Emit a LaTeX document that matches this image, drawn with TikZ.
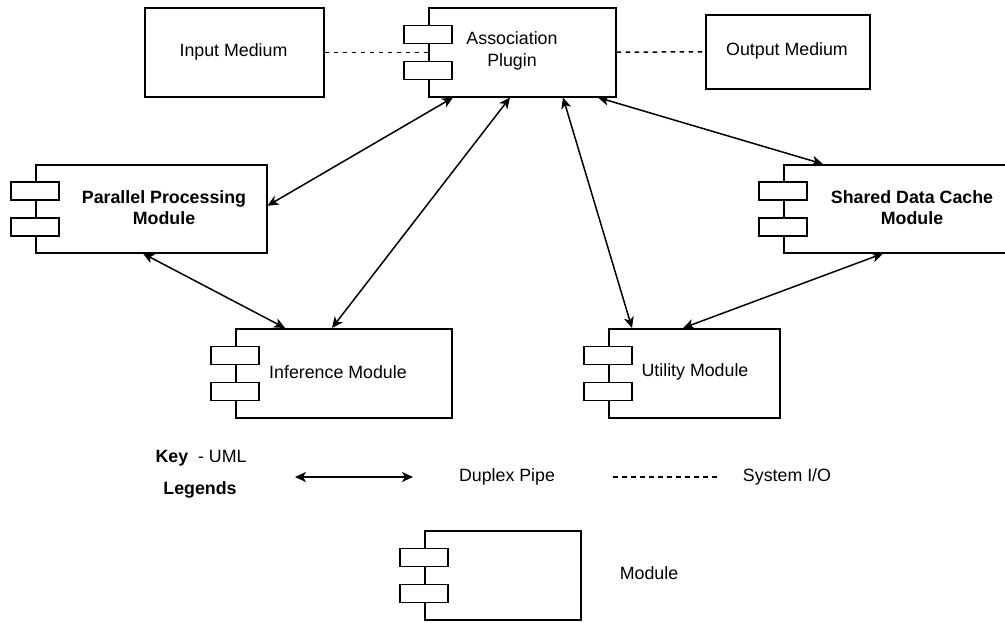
\documentclass[tikz,border=0pt]{standalone}
\usepackage{fontspec}
\setmainfont{Liberation Sans}
\usetikzlibrary{arrows.meta}

\tikzset{
  box/.style={draw=black, line width=1.5pt, fill=white, rectangle, inner sep=0pt, anchor=north west},
  lbl/.style={inner sep=0pt, align=center, font=\fontsize{17.8}{21.5}\selectfont},
  duplex/.style={line width=1.5pt, {Stealth[length=11pt,width=10pt,inset=3pt]}-{Stealth[length=11pt,width=10pt,inset=3pt]}},
  sysio/.style={line width=1.5pt, dash pattern=on 4.5pt off 4.5pt},
  ports/.pic={
    \draw[line width=1.5pt, fill=white] (-24,-27) rectangle (24,-9);
    \draw[line width=1.5pt, fill=white] (-24,9) rectangle (24,27);
  }
}

\begin{document}
\begin{tikzpicture}[x=1pt, y=-1pt]
\useasboundingbox (0,0) rectangle (1005,622);
\clip (0,0) rectangle (1005,622);

% plain boxes for the I/O media
\node[box, minimum width=179pt, minimum height=89pt] (input) at (144,7) {};
\node[box, minimum width=164pt, minimum height=74pt] (output) at (705,14) {};

% component boxes
\node[box, minimum width=187pt, minimum height=89pt] (assoc) at (428,7) {};
\node[box, minimum width=231pt, minimum height=88pt] (parallel) at (35,164) {};
\node[box, minimum width=231pt, minimum height=88pt] (shared) at (783,164) {};
\node[box, minimum width=216pt, minimum height=89pt] (inference) at (235,328) {};
\node[box, minimum width=171pt, minimum height=89pt] (utility) at (608,328) {};
\node[box, minimum width=156pt, minimum height=89pt] (keymod) at (424,530) {};

% system I/O links
\draw[sysio] (input.east) -- (assoc.west);
\draw[sysio] (assoc.east) -- (output.west);

% component ports
\pic at (assoc.west) {ports};
\pic at (parallel.west) {ports};
\pic at (shared.west) {ports};
\pic at (inference.west) {ports};
\pic at (utility.west) {ports};
\pic at (keymod.west) {ports};

% labels
\node[lbl] (inputT) at (233.5,51.5) {Input Medium};
\node[lbl] (outputT) at (787,51) {Output Medium};
\node[lbl] (assocT) at (512,51) {Association\\Plugin};
\node[lbl, font=\fontsize{17.8}{21.5}\selectfont\bfseries] (parallelT) at (164,207.5) {Parallel Processing\\Module};
\node[lbl, font=\fontsize{17.8}{21.5}\selectfont\bfseries] (sharedT) at (912,207.5) {Shared Data Cache\\Module};
\node[lbl] (inferenceT) at (338,372) {Inference Module};
\node[lbl] (utilityT) at (695,372) {Utility Module};

% duplex pipes
\draw[duplex] ([xshift=25pt]assoc.south west) -- ([yshift=3pt]parallel.east);
\draw[duplex] ([xshift=82pt]assoc.south west) -- ([xshift=97pt]inference.north west);
\draw[duplex] ([xshift=135pt]assoc.south west) -- ([xshift=24pt]utility.north west);
\draw[duplex] ([xshift=170pt]assoc.south west) -- ([xshift=40pt]shared.north west);
\draw[duplex] ([xshift=108pt]parallel.south west) -- ([xshift=50pt]inference.north west);
\draw[duplex] ([xshift=100pt]shared.south west) -- ([xshift=75pt]utility.north west);

% key
\node[lbl] (keyT) at (201,458) {\textbf{Key}\ \ - UML};
\node[lbl, font=\fontsize{17.8}{21.5}\selectfont\bfseries] (legendsT) at (200,490) {Legends};
\coordinate (pipeA) at (295,477);
\coordinate (pipeB) at (413,477);
\draw[duplex] (pipeA) -- (pipeB);
\node[lbl] (pipeT) at (507,477) {Duplex Pipe};
\coordinate (ioA) at (613,477);
\coordinate (ioB) at (717,477);
\draw[sysio] (ioA) -- (ioB);
\node[lbl] (ioT) at (787,477) {System I/O};
\node[lbl] (moduleT) at (649,573) {Module};
\end{tikzpicture}
\end{document}
